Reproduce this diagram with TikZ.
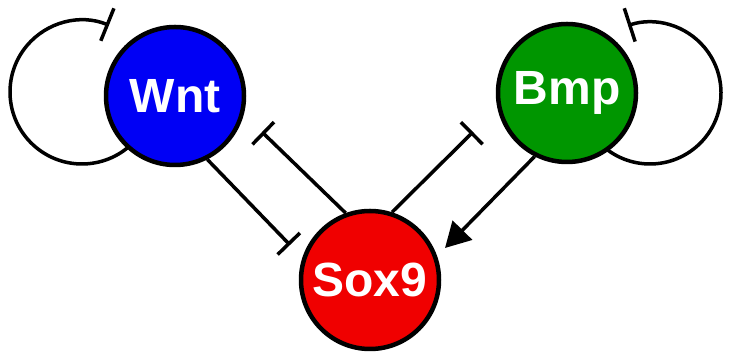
\documentclass[tikz,border=0pt]{standalone}
\usepackage{fontspec}
\setmainfont{Liberation Sans}
\usetikzlibrary{arrows.meta}
\definecolor{wntblue}{RGB}{0,0,245}
\definecolor{bmpgreen}{RGB}{0,150,0}
\definecolor{soxred}{RGB}{240,0,0}
\begin{document}
\begin{tikzpicture}[x=1pt,y=1pt,
  gene/.style={circle,draw=black,line width=4.5pt,minimum size=138pt,inner sep=0pt,
    text=white,font=\fontsize{48}{48}\selectfont\bfseries},
  edge/.style={line width=3.5pt,draw=black},
  inh/.style={edge,-{Bar[width=31pt,line width=3.5pt]}},
  selfinh/.style={edge,-{Bar[width=35pt,line width=3.5pt]}},
  act/.style={edge,-{Triangle[length=25pt,width=27pt]}}]
\useasboundingbox (0,0) rectangle (731,355);
% self loops (drawn first, covered by the circles)
\coordinate (wl) at (82,263);
\coordinate (bl) at (650,262);
\draw[selfinh] (wl) ++(320:72) arc[start angle=320,end angle=68,radius=72];
\draw[selfinh] (bl) ++(220:71) arc[start angle=220,end angle=468,radius=71];
% nodes
\node[gene,fill=wntblue] (wnt) at (175,259) {Wnt};
\node[gene,fill=bmpgreen] (bmp) at (567,262) {Bmp};
\node[gene,fill=soxred] (sox) at (370,75) {Sox9};
% connector ends
\coordinate (w2s) at (290,110);
\coordinate (s2w) at (262,223);
\coordinate (s2b) at (473,223);
\coordinate (b2s) at (445,107);
\draw[inh] (wnt.-63) -- (w2s);
\draw[inh] (sox.110) -- (s2w);
\draw[inh] (sox.72) -- (s2b);
\draw[act] (bmp.243) -- (b2s);
\end{tikzpicture}
\end{document}
